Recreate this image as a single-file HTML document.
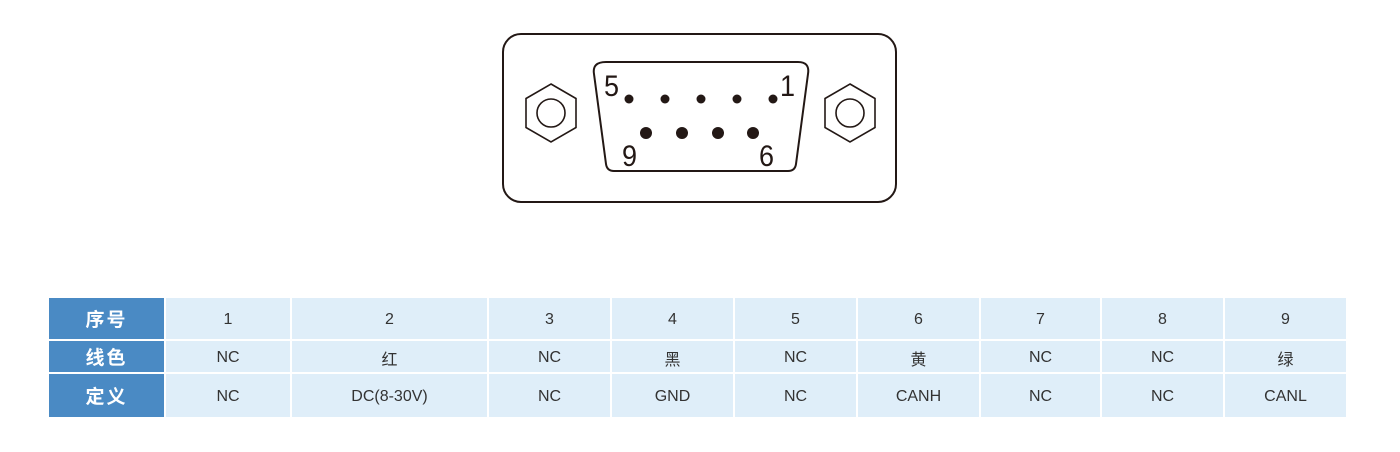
<!DOCTYPE html>
<html><head><meta charset="utf-8"><style>
body{margin:0;width:1400px;height:452px;background:#fff;position:relative;font-family:"Liberation Sans","Noto Sans CJK SC",sans-serif;overflow:hidden}
.c{position:absolute;display:flex;align-items:center;justify-content:center;font-size:16px;color:#333;background:#dfeef9;box-sizing:border-box;padding-top:3px}
.h{background:#4a8ac4;color:#fff;font-size:19px;font-weight:bold;letter-spacing:2px;padding-top:0}
</style></head><body>
<svg width="1400" height="260" style="position:absolute;left:0;top:0">
<rect x="503" y="34" width="393" height="168" rx="18" fill="none" stroke="#231815" stroke-width="2"/>
<path d="M606,62 L798,62 Q810,62 808,74 L796,164 Q795,171 788,171 L614,171 Q607,171 606,164 L594,74 Q592,62 606,62 Z" fill="none" stroke="#231815" stroke-width="2"/>
<polygon points="551,84 576,98.5 576,127.5 551,142 526,127.5 526,98.5" fill="none" stroke="#231815" stroke-width="1.6"/>
<circle cx="551" cy="113" r="14" fill="none" stroke="#231815" stroke-width="1.6"/>
<polygon points="850,84 875,98.5 875,127.5 850,142 825,127.5 825,98.5" fill="none" stroke="#231815" stroke-width="1.6"/>
<circle cx="850" cy="113" r="14" fill="none" stroke="#231815" stroke-width="1.6"/>
<g fill="#231815">
<circle cx="629" cy="99" r="4.5"/><circle cx="665" cy="99" r="4.5"/><circle cx="701" cy="99" r="4.5"/><circle cx="737" cy="99" r="4.5"/><circle cx="773" cy="99" r="4.5"/>
<circle cx="646" cy="133" r="6"/><circle cx="682" cy="133" r="6"/><circle cx="718" cy="133" r="6"/><circle cx="753" cy="133" r="6"/>
<g font-family="Liberation Sans,sans-serif" font-size="30">
<text x="604" y="96" transform="translate(604,0) scale(0.9,1) translate(-604,0)">5</text>
<text x="780" y="96" transform="translate(780,0) scale(0.9,1) translate(-780,0)">1</text>
<text x="622" y="166" transform="translate(622,0) scale(0.9,1) translate(-622,0)">9</text>
<text x="759" y="166" transform="translate(759,0) scale(0.9,1) translate(-759,0)">6</text>
</g></g>
</svg>
<div class="c h" style="left:49px;top:298px;width:115px;height:41px">序号</div>
<div class="c h" style="left:49px;top:341px;width:115px;height:31px">线色</div>
<div class="c h" style="left:49px;top:374px;width:115px;height:43px">定义</div>
<div id="t"></div>
<script>
var cols=[[166,124],[292,195],[489,121],[612,121],[735,121],[858,121],[981,119],[1102,121],[1225,121]];
var r1=["1","2","3","4","5","6","7","8","9"],r2=["NC","红","NC","黑","NC","黄","NC","NC","绿"],r3=["NC","DC(8-30V)","NC","GND","NC","CANH","NC","NC","CANL"];
var rows=[[298,41,r1],[341,31,r2],[374,43,r3]],h="";
rows.forEach(function(r){cols.forEach(function(c,i){h+='<div class="c" style="left:'+c[0]+'px;top:'+r[0]+'px;width:'+c[1]+'px;height:'+r[1]+'px">'+r[2][i]+'</div>';});});
document.getElementById("t").innerHTML=h;
</script>
</body></html>
